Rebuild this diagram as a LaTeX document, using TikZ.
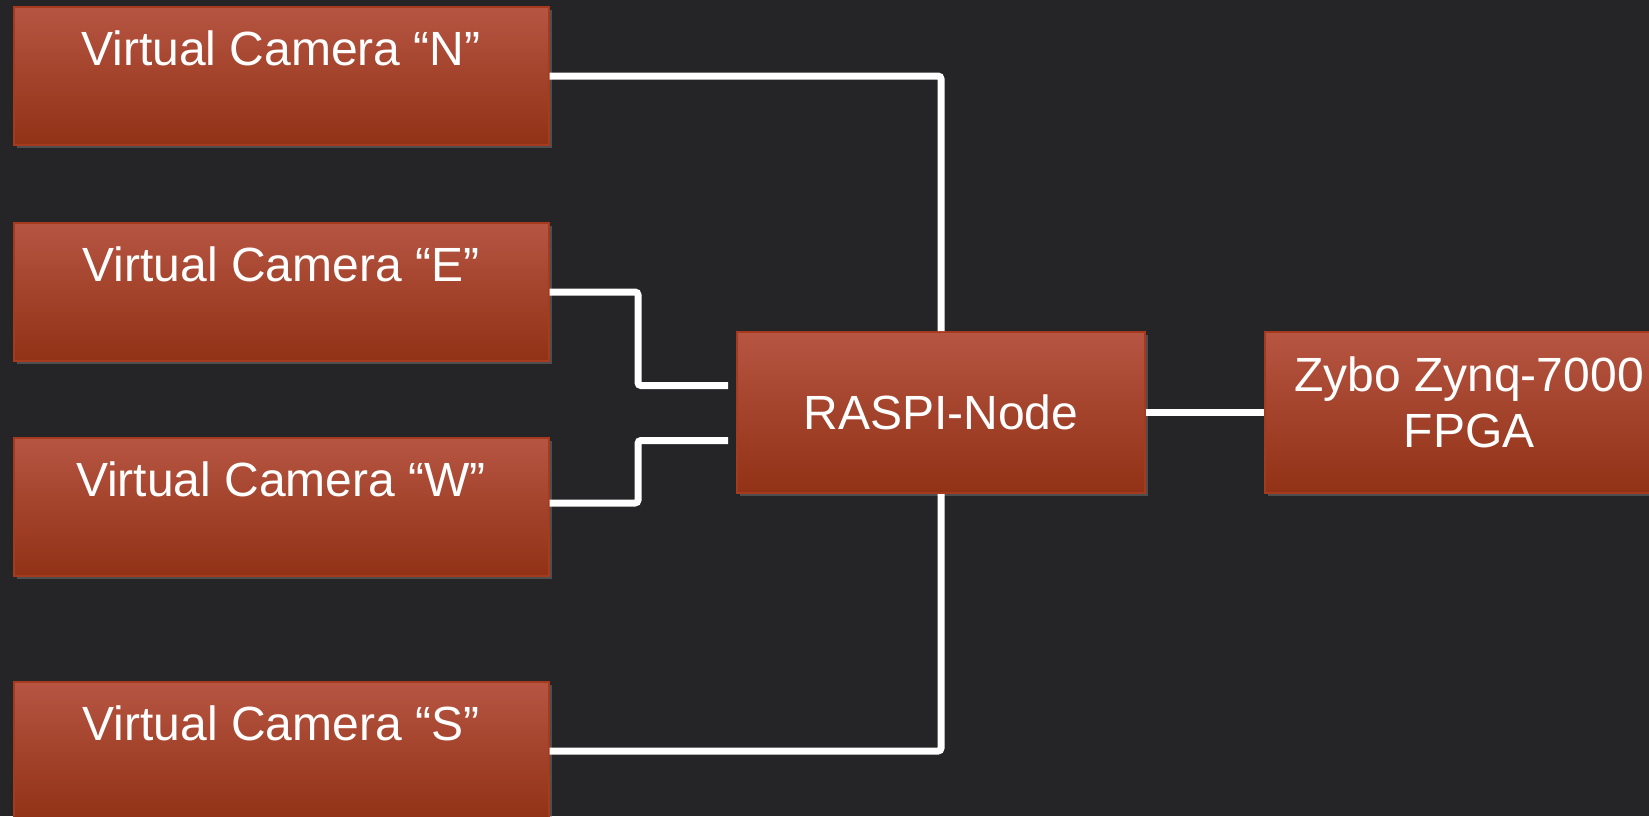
\documentclass[tikz,border=0pt]{standalone}
\usepackage{fontspec}
\setmainfont{Liberation Sans}
\usetikzlibrary{positioning,shadows}
\definecolor{boardbg}{RGB}{37,37,39}
\definecolor{boxtop}{RGB}{182,85,66}
\definecolor{boxbot}{RGB}{145,49,21}
\definecolor{boxedge}{RGB}{165,58,30}
\tikzset{font={\fontsize{24pt}{28pt}\selectfont}}
\tikzset{
  unit/.style={draw=boxedge, line width=1pt, top color=boxtop, bottom color=boxbot,
    text=white, align=center, inner sep=0pt,
    drop shadow={shadow xshift=1.5pt, shadow yshift=-1.5pt, opacity=0.45}},
  cam/.style={unit, minimum width=267.5pt, minimum height=69pt},
  hub/.style={unit, minimum width=204pt, minimum height=80.5pt},
  wire/.style={white, line width=3.5pt, rounded corners=1.5pt}
}

\begin{document}
\begin{tikzpicture}[x=0.5pt,y=-0.5pt]
      \useasboundingbox (0,0) rectangle (1649,816);
      \clip (0,0) rectangle (1649,816);
      \fill[boardbg] (0,0) rectangle (1649,816);
      %cameras
      \node[cam] (camN) at (281,76) {Virtual Camera “N”\\\mbox{}};
      \node[cam, below=38pt of camN] (camE) {Virtual Camera “E”\\\mbox{}};
      \node[cam, below=37.5pt of camE] (camW) {Virtual Camera “W”\\\mbox{}};
      \node[cam, below=52pt of camW] (camS) {Virtual Camera “S”\\\mbox{}};
      %hub and board
      \node[hub] (raspi) at (941,412.5) {RASPI-Node};
      \node[hub, right=59pt of raspi, text depth=10pt] (zybo) {Zybo Zynq-7000\\FPGA};
      \coordinate (inE) at ([yshift=13.5pt]raspi.west);
      \coordinate (inW) at ([yshift=-14pt]raspi.west);
      %links
      \draw[wire] (camN.east) -| (raspi.north);
      \draw[wire] (camS.east) -| (raspi.south);
      \draw[wire, shorten >=4pt] (camE.east) -| ([xshift=-49pt]inE) -- (inE);
      \draw[wire, shorten >=4pt] ([yshift=2pt]camW.east) -| ([xshift=-49pt]inW) -- (inW);
      \draw[wire] (raspi.east) -- (zybo.west);
    \end{tikzpicture}
\end{document}
